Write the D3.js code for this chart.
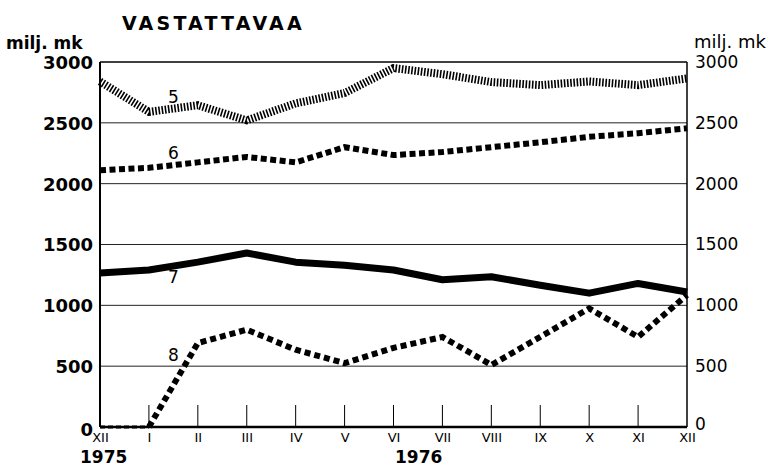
<!DOCTYPE html>
<html>
<head>
<meta charset="utf-8">
<script src="https://cdn.jsdelivr.net/npm/d3@7"></script>
<style>
  body { margin: 0; background: #fff; }
  svg { font-family: "DejaVu Sans", Arial, sans-serif; }
</style>
</head>
<body>
<svg id="chart" width="775" height="468"></svg>
<script>
"use strict";

// month ticks, XII 1975 .. XII 1976
let months = ["XII", "I", "II", "III", "IV", "V", "VI", "VII", "VIII", "IX", "X", "XI", "XII"];
let yTicks = [0, 500, 1000, 1500, 2000, 2500, 3000];

// series values, milj. mk
let s5 = [2840, 2590, 2645, 2520, 2660, 2745, 2950, 2900, 2835, 2810, 2840, 2810, 2865];
let s6 = [2110, 2130, 2175, 2220, 2175, 2300, 2235, 2260, 2300, 2340, 2385, 2415, 2455];
let s7 = [1265, 1290, 1355, 1430, 1355, 1330, 1290, 1210, 1235, 1165, 1100, 1180, 1110];
let s8 = [0, 0, 690, 800, 635, 525, 650, 740, 510, 740, 975, 740, 1085];

let seriesLabels = [
  {name: "5", month: 1.5, value: 2660},
  {name: "6", month: 1.5, value: 2200},
  {name: "7", month: 1.5, value: 1180},
  {name: "8", month: 1.5, value: 540}
];

let margin = {left: 100, right: 88, top: 62, bottom: 41};
let width = 775 - margin.left - margin.right,
    height = 468 - margin.top - margin.bottom;

let svg = d3.select("#chart");
let g = svg.append("g").attr("transform", `translate(${margin.left},${margin.top})`);

let x = d3.scaleLinear().domain([0, months.length - 1]).range([0, width]);
let y = d3.scaleLinear().domain([0, 3000]).range([height, 0]);

// gridlines
g.selectAll("line.grid")
  .data(yTicks.filter(d => d > 0 && d < 3000))
  .join("line")
  .attr("class", "grid")
  .attr("x1", 0).attr("x2", width)
  .attr("y1", d => y(d)).attr("y2", d => y(d))
  .attr("stroke", "#222").attr("stroke-width", 1);

// month tick marks
g.selectAll("line.mtick")
  .data(d3.range(1, months.length - 1))
  .join("line")
  .attr("class", "mtick")
  .attr("x1", d => x(d)).attr("x2", d => x(d))
  .attr("y1", height - 22).attr("y2", height)
  .attr("stroke", "#000").attr("stroke-width", 1);

// frame
g.append("line").attr("x1", 0).attr("x2", width).attr("y1", 0).attr("y2", 0)
  .attr("stroke", "#000").attr("stroke-width", 1.5);
g.append("line").attr("x1", 0).attr("x2", 0).attr("y1", 0).attr("y2", height)
  .attr("stroke", "#000").attr("stroke-width", 2);
g.append("line").attr("x1", width).attr("x2", width).attr("y1", 0).attr("y2", height)
  .attr("stroke", "#000").attr("stroke-width", 1.5);
g.append("line").attr("x1", 0).attr("x2", width).attr("y1", height).attr("y2", height)
  .attr("stroke", "#000").attr("stroke-width", 2.5);

// axes (text only)
let yLeft = g.append("g")
  .call(d3.axisLeft(y).tickValues(yTicks).tickFormat(d3.format("d")).tickSize(0).tickPadding(7));
yLeft.select(".domain").remove();
yLeft.selectAll("text")
  .attr("font-size", 18).attr("font-weight", "bold").attr("fill", "#000")
  .attr("font-family", "DejaVu Sans, Arial, sans-serif")
  .attr("dy", d => d === 0 ? "0.45em" : "0.36em");

let yRight = g.append("g")
  .attr("transform", `translate(${width},0)`)
  .call(d3.axisRight(y).tickValues(yTicks).tickFormat(d3.format("d")).tickSize(0).tickPadding(8));
yRight.select(".domain").remove();
yRight.selectAll("text")
  .attr("font-size", 17).attr("fill", "#000")
  .attr("font-family", "DejaVu Sans, Arial, sans-serif")
  .attr("dy", d => d === 0 ? "0.12em" : "0.32em");

let xAxis = g.append("g")
  .attr("transform", `translate(0,${height})`)
  .call(d3.axisBottom(x).tickValues(d3.range(months.length))
    .tickFormat(i => months[i]).tickSize(0).tickPadding(6));
xAxis.select(".domain").remove();
xAxis.selectAll("text")
  .attr("font-size", 13).attr("fill", "#000")
  .attr("font-family", "DejaVu Sans, Arial, sans-serif");

// lines
let line = d3.line().x((d, i) => x(i)).y(d => y(d));

g.append("path").datum(s5).attr("d", line)
  .attr("fill", "none").attr("stroke", "#000")
  .attr("stroke-width", 8).attr("stroke-dasharray", "1.6,1.6");

g.append("path").datum(s6).attr("d", line)
  .attr("fill", "none").attr("stroke", "#000")
  .attr("stroke-width", 6).attr("stroke-dasharray", "6,3.5");

g.append("path").datum(s7).attr("d", line)
  .attr("fill", "none").attr("stroke", "#000")
  .attr("stroke-width", 7).attr("stroke-linejoin", "round");

g.append("path").datum(s8.slice(0, 2)).attr("d", line)
  .attr("fill", "none").attr("stroke", "#000")
  .attr("stroke-width", 3).attr("stroke-dasharray", "5,3");

g.append("path").datum(s8.slice(1)).attr("d", (d) => d3.line().x((v, i) => x(i + 1)).y(v => y(v))(d))
  .attr("fill", "none").attr("stroke", "#000")
  .attr("stroke-width", 6).attr("stroke-dasharray", "6,4");

// series labels
g.selectAll("text.slabel")
  .data(seriesLabels)
  .join("text")
  .attr("class", "slabel")
  .attr("x", d => x(d.month)).attr("y", d => y(d.value))
  .attr("text-anchor", "middle")
  .attr("font-size", 17).attr("fill", "#000")
  .text(d => d.name);

// titles
svg.append("text").attr("x", 122).attr("y", 30)
  .attr("font-size", 19).attr("font-weight", "bold").attr("letter-spacing", 3.2)
  .text("VASTATTAVAA");
svg.append("text").attr("x", 6).attr("y", 49)
  .attr("font-size", 17).attr("font-weight", "bold")
  .text("milj. mk");
svg.append("text").attr("x", 694).attr("y", 48)
  .attr("font-size", 18)
  .text("milj. mk");
svg.append("text").attr("x", 80).attr("y", 463)
  .attr("font-size", 17).attr("font-weight", "bold")
  .text("1975");
svg.append("text").attr("x", 395).attr("y", 463)
  .attr("font-size", 17).attr("font-weight", "bold")
  .text("1976");
</script>
</body>
</html>
